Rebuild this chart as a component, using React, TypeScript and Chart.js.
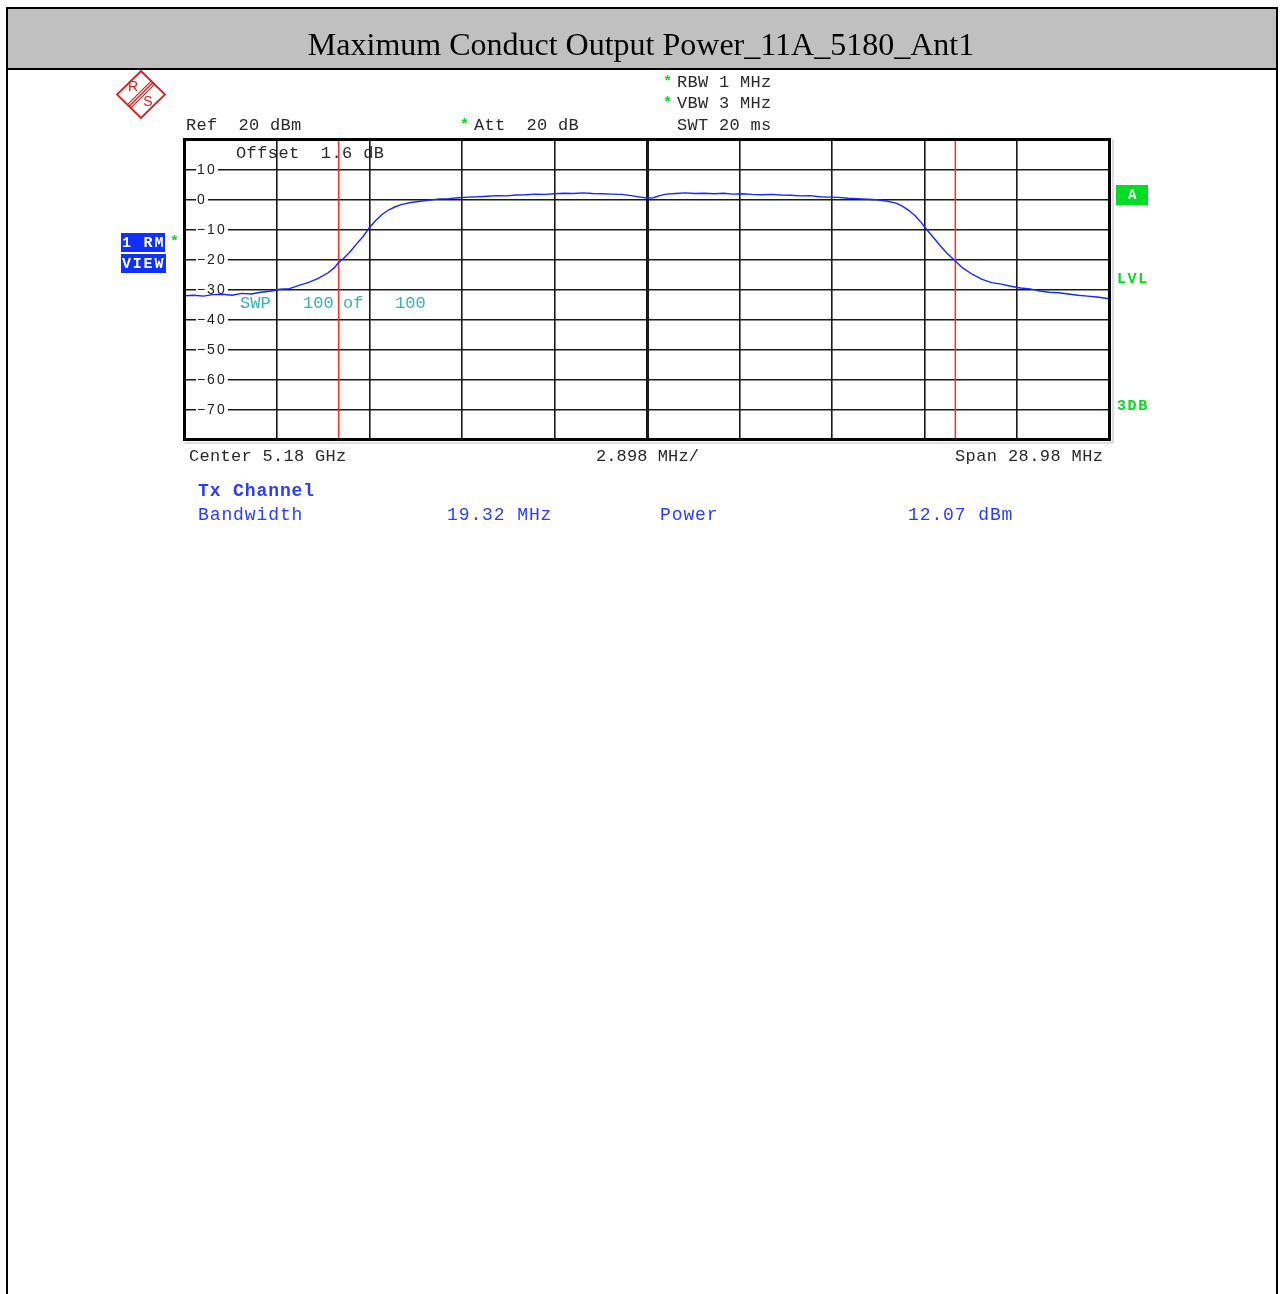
import React, { useEffect, useRef } from "react";
import { Chart, registerables } from "chart.js";

Chart.register(...registerables);

// ---- data (MHz offset from centre 5180 MHz, level in dBm) ----
const FREQ_MHZ = [
  -14.49, -14.2, -13.9, -13.6, -13.3, -13.0, -12.7, -12.4, -12.1, -11.8, -11.5, -11.2, -10.9, -10.6, -10.3, -10.0,
  -9.8, -9.67, -9.5, -9.3, -9.1, -8.9, -8.7, -8.5, -8.3, -8.1, -7.9, -7.7, -7.4, -7.1, -6.8, -6.5, -6.2, -5.9,
  -5.6, -5.3, -5.0, -4.7, -4.4, -4.1, -3.8, -3.5, -3.2, -2.9, -2.6, -2.3, -2.0, -1.7, -1.4, -1.1, -0.8, -0.5,
  -0.2, 0.0, 0.2, 0.4, 0.6, 0.9, 1.2, 1.5, 1.8, 2.1, 2.4, 2.7, 3.0, 3.3, 3.6, 3.9, 4.2, 4.5, 4.8, 5.1, 5.4, 5.7,
  6.0, 6.3, 6.6, 6.9, 7.2, 7.5, 7.8, 8.0, 8.2, 8.4, 8.6, 8.8, 9.0, 9.2, 9.4, 9.64, 9.9, 10.2, 10.5, 10.8, 11.1,
  11.4, 11.7, 12.0, 12.3, 12.6, 12.9, 13.2, 13.5, 13.8, 14.1, 14.49,
];
const LEVEL_DBM = [
  -32.1, -31.9, -32.2, -31.7, -31.6, -31.9, -31.3, -31.5, -30.9, -30.6, -29.9, -29.7, -28.6, -27.6, -26.3, -24.5,
  -22.8, -21.1, -19.6, -17.4, -14.8, -12.4, -9.4, -7.0, -5.0, -3.5, -2.5, -1.7, -1.0, -0.6, -0.2, 0.2, 0.3, 0.6,
  0.8, 0.9, 1.1, 1.3, 1.2, 1.5, 1.6, 1.8, 1.7, 1.9, 2.1, 2.0, 2.2, 2.0, 1.9, 1.8, 1.7, 1.3,
  0.8, 0.5, 0.6, 1.3, 1.8, 2.0, 2.2, 2.0, 2.1, 1.9, 2.1, 1.8, 1.9, 1.7, 1.6, 1.7, 1.5, 1.4, 1.2, 1.3, 0.9, 0.8,
  0.7, 0.4, 0.3, 0.1, -0.1, -0.5, -1.2, -2.2, -3.6, -5.4, -7.8, -10.5, -13.0, -15.6, -17.9, -20.3, -22.9, -25.0,
  -26.6, -27.7, -28.2, -28.9, -29.5, -29.8, -30.5, -30.9, -31.1, -31.5, -31.9, -32.2, -32.5, -33.1,
];
const MARKER_MHZ = [-9.66, 9.66];
const X_GRID_MHZ = [-14.49, -11.592, -8.694, -5.796, -2.898, 0, 2.898, 5.796, 8.694, 11.592, 14.49];
const Y_MIN = -80;
const Y_MAX = 20;
const Y_LABELS = [10, 0, -10, -20, -30, -40, -50, -60, -70];

const TITLE = "Maximum Conduct Output Power_11A_5180_Ant1";

const MONO = '"Liberation Mono", "DejaVu Sans Mono", monospace';
const GREEN = "#00dd22";
const BLUE_TXT = "#2a3cff";

function mono(ctx: CanvasRenderingContext2D, text: string, x: number, y: number, adv: number, font: string, color: string) {
  ctx.save();
  ctx.font = font;
  ctx.fillStyle = color;
  ctx.textBaseline = "middle";
  ctx.textAlign = "left";
  for (let i = 0; i < text.length; i++) ctx.fillText(text[i], x + i * adv, y);
  ctx.restore();
}

function drawLogo(ctx: CanvasRenderingContext2D) {
  ctx.save();
  ctx.strokeStyle = "#d42020";
  ctx.fillStyle = "#d42020";
  ctx.lineWidth = 1.8;
  ctx.beginPath();
  ctx.moveTo(141, 71);
  ctx.lineTo(165, 94.5);
  ctx.lineTo(141, 118);
  ctx.lineTo(117, 94.5);
  ctx.closePath();
  ctx.stroke();
  ctx.lineWidth = 1.2;
  for (const o of [-2.4, 0, 2.4]) {
    const dx = o * 0.7071, dy = o * 0.7071;
    ctx.beginPath();
    ctx.moveTo(153 + dx, 82.5 + dy);
    ctx.lineTo(129 + dx, 106.5 + dy);
    ctx.stroke();
  }
  ctx.font = '14px "Liberation Sans", sans-serif';
  ctx.textAlign = "center";
  ctx.textBaseline = "middle";
  ctx.fillText("R", 133, 87);
  ctx.fillText("S", 148, 102);
  ctx.restore();
}

const decor = {
  id: "decor",
  beforeDraw(chart: any) {
    const ctx: CanvasRenderingContext2D = chart.ctx;
    ctx.save();
    ctx.fillStyle = "#ffffff";
    ctx.fillRect(0, 0, chart.width, chart.height);
    // title bar
    ctx.fillStyle = "#c0c0c0";
    ctx.fillRect(8, 9, 1269, 60);
    ctx.strokeStyle = "#000";
    ctx.lineWidth = 2;
    ctx.beginPath();
    ctx.moveTo(7, 1300);
    ctx.lineTo(7, 8);
    ctx.lineTo(1277, 8);
    ctx.lineTo(1277, 1300);
    ctx.moveTo(7, 69);
    ctx.lineTo(1277, 69);
    ctx.stroke();
    ctx.fillStyle = "#000";
    ctx.font = '32px "Liberation Serif", "Times New Roman", serif';
    ctx.textAlign = "center";
    ctx.textBaseline = "middle";
    ctx.fillText(TITLE, 641, 47);
    ctx.restore();

    drawLogo(ctx);

    const f = `17px ${MONO}`;
    const dark = "#2a2a2a";
    const star = `bold 15px ${MONO}`;
    mono(ctx, "*", 663, 82, 10.5, star, GREEN);
    mono(ctx, "RBW 1 MHz", 677, 82, 10.5, f, dark);
    mono(ctx, "*", 663, 103, 10.5, star, GREEN);
    mono(ctx, "VBW 3 MHz", 677, 103, 10.5, f, dark);
    mono(ctx, "SWT 20 ms", 677, 125, 10.5, f, dark);
    mono(ctx, "*", 460, 125, 10.5, star, GREEN);
    mono(ctx, "Att  20 dB", 474, 125, 10.5, f, dark);
    mono(ctx, "Ref  20 dBm", 186, 125, 10.5, f, dark);
    mono(ctx, "Offset  1.6 dB", 236, 153, 10.6, f, dark);

    mono(ctx, "Center 5.18 GHz", 189, 456, 10.5, f, dark);
    mono(ctx, "2.898 MHz/", 596, 456, 10.3, f, dark);
    mono(ctx, "Span 28.98 MHz", 955, 456, 10.6, f, dark);

    mono(ctx, "Tx Channel", 198, 491, 11.7, `bold 18px ${MONO}`, BLUE_TXT);
    mono(ctx, "Bandwidth", 198, 515, 11.7, `18px ${MONO}`, BLUE_TXT);
    mono(ctx, "19.32 MHz", 447, 515, 11.7, `18px ${MONO}`, BLUE_TXT);
    mono(ctx, "Power", 660, 515, 11.7, `18px ${MONO}`, BLUE_TXT);
    mono(ctx, "12.07 dBm", 908, 515, 11.7, `18px ${MONO}`, BLUE_TXT);

    mono(ctx, "SWP", 240, 303, 10.2, f, "#33b3b3");
    mono(ctx, "100", 303, 303, 10.2, f, "#33b3b3");
    mono(ctx, "of", 343, 303, 10.2, f, "#33b3b3");
    mono(ctx, "100", 395, 303, 10.2, f, "#33b3b3");

    // side boxes
    ctx.save();
    ctx.fillStyle = "#1030ff";
    ctx.fillRect(121, 233, 44, 19);
    ctx.fillRect(121, 254, 45, 19);
    ctx.fillStyle = GREEN;
    ctx.fillRect(1116, 185, 32, 20);
    ctx.restore();
    const lbl = `bold 15px ${MONO}`;
    mono(ctx, "1 RM", 122, 243, 10.8, lbl, "#ffffff");
    mono(ctx, "VIEW", 122, 264, 10.8, lbl, "#ffffff");
    mono(ctx, "*", 170, 242, 10, star, GREEN);
    mono(ctx, "A", 1128, 195, 10, `bold 14px ${MONO}`, "#ffffff");
    mono(ctx, "LVL", 1117, 279, 10.6, `bold 15px ${MONO}`, GREEN);
    mono(ctx, "3DB", 1117, 406, 10.6, `bold 15px ${MONO}`, GREEN);
  },
  beforeDatasetsDraw(chart: any) {
    const ctx: CanvasRenderingContext2D = chart.ctx;
    const ys = chart.scales.y;
    for (const v of Y_LABELS) {
      const y = ys.getPixelForValue(v);
      const txt = v < 0 ? "\u2212" + String(-v) : String(v);
      const adv = 10;
      const w = txt.length * adv;
      ctx.save();
      ctx.fillStyle = "#ffffff";
      ctx.fillRect(196, y - 3, w + 2, 6);
      ctx.restore();
      mono(ctx, txt, 197, y + 0.5, adv, '14px "Liberation Sans", "DejaVu Sans", sans-serif', "#222222");
    }
  },
  afterDatasetsDraw(chart: any) {
    const ctx: CanvasRenderingContext2D = chart.ctx;
    const a = chart.chartArea;
    ctx.save();
    ctx.strokeStyle = "#bbbbbb";
    ctx.lineWidth = 1;
    ctx.beginPath();
    ctx.moveTo(a.left, a.bottom + 3.5);
    ctx.lineTo(a.right + 3.5, a.bottom + 3.5);
    ctx.lineTo(a.right + 3.5, a.top);
    ctx.stroke();
    ctx.strokeStyle = "#000000";
    ctx.lineWidth = 3;
    ctx.strokeRect(a.left, a.top, a.right - a.left, a.bottom - a.top);
    ctx.restore();
  },
};

export default function App() {
  const ref = useRef<HTMLCanvasElement | null>(null);
  useEffect(() => {
    if (!ref.current) return;
    const trace = FREQ_MHZ.map((x, i) => ({ x, y: LEVEL_DBM[i] }));
    const markerSets = MARKER_MHZ.map((m) => ({
      data: [
        { x: m, y: Y_MIN },
        { x: m, y: Y_MAX },
      ],
      borderColor: "#ff2a2a",
      borderWidth: 1.5,
      pointRadius: 0,
      fill: false,
    }));
    const chart = new Chart(ref.current, {
      type: "line",
      data: {
        datasets: [
          {
            data: trace,
            borderColor: "#1428ff",
            borderWidth: 1.4,
            pointRadius: 0,
            tension: 0,
            fill: false,
          },
          ...markerSets,
        ],
      },
      options: {
        responsive: false,
        animation: false,
        devicePixelRatio: 1,
        layout: { padding: { left: 184.5, top: 139.5, right: 170.5, bottom: 854.5 } },
        plugins: { legend: { display: false }, tooltip: { enabled: false }, title: { display: false } },
        scales: {
          x: {
            type: "linear",
            min: X_GRID_MHZ[0],
            max: X_GRID_MHZ[X_GRID_MHZ.length - 1],
            afterBuildTicks: (s: any) => {
              s.ticks = X_GRID_MHZ.map((v) => ({ value: v }));
            },
            ticks: { display: false },
            border: { display: false },
            grid: {
              color: "#1a1a1a",
              lineWidth: (c: any) => (c.index === 5 ? 3 : 1.6),
              drawTicks: false,
            },
          },
          y: {
            min: Y_MIN,
            max: Y_MAX,
            ticks: { display: false, stepSize: 10 },
            border: { display: false },
            grid: { color: "#1a1a1a", lineWidth: 1.6, drawTicks: false },
          },
        },
      },
      plugins: [decor],
    } as any);
    return () => chart.destroy();
  }, []);
  return (
    <div style={{ position: "absolute", left: 0, top: 0, width: 1280, height: 1294, overflow: "hidden" }}>
      <canvas ref={ref} width={1280} height={1294} style={{ display: "block" }} />
    </div>
  );
}
